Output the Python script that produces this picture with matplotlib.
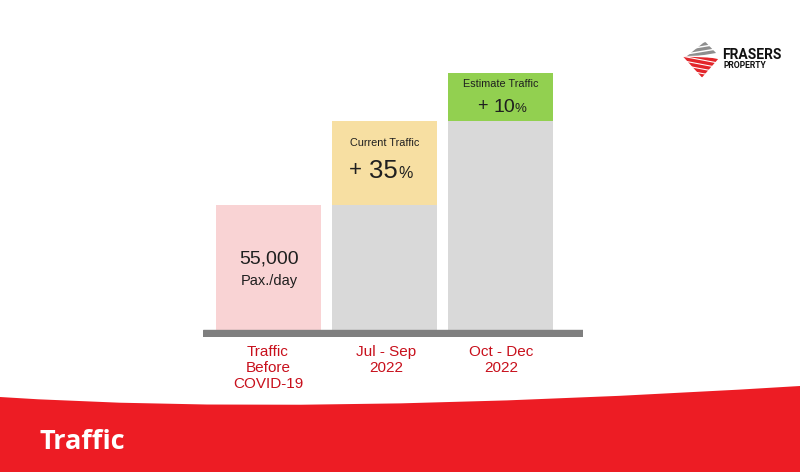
import matplotlib
matplotlib.use("Agg")
import matplotlib.pyplot as plt
from matplotlib.path import Path
from matplotlib.patches import PathPatch, Polygon

# ---- data (heights in thousand pax/day as drawn) ----
categories = ["Traffic\nBefore\nCOVID-19", "Jul - Sep\n2022", "Oct - Dec\n2022"]
base_values = [55, 55, 92]          # lower segment
top_values = [0, 37, 21]            # upper coloured segment
base_colors = ["#F9D3D4", "#D9D9D9", "#D9D9D9"]
top_colors = ["#F9D3D4", "#F7DFA2", "#92D050"]
top_titles = ["", "Current Traffic", "Estimate Traffic"]
top_numbers = ["", "35", "10"]
base_value_text = "55,000"
base_unit_text = "Pax./day"
banner_title = "Traffic"

RED_TXT = "#C8101C"
BANNER = "#ED1C24"
DARK = "#1F1F1F"

fig = plt.figure(figsize=(8, 4.72), dpi=100)

# background / decoration axes in pixel coords
bg = fig.add_axes([0, 0, 1, 1])
bg.set_xlim(0, 800)
bg.set_ylim(472, 0)
bg.axis("off")

# red banner with curved top edge
verts = [(0, 397), (300, 417), (800, 386), (800, 472), (0, 472), (0, 397)]
codes = [Path.MOVETO, Path.CURVE3, Path.CURVE3, Path.LINETO, Path.LINETO, Path.CLOSEPOLY]
bg.add_patch(PathPatch(Path(verts, codes), facecolor=BANNER, edgecolor="none"))
bg.text(40, 449, banner_title, color="white", fontsize=19.5, fontweight="bold",
        family="Open Sans", ha="left", va="baseline")

# logo (approximation): striped triangles
gray_tri = Polygon([(705, 41.5), (687, 56), (718, 55)], closed=True,
                   facecolor="none", edgecolor="none")
red_tri = Polygon([(683, 56.5), (719, 58), (702, 77.5)], closed=True,
                  facecolor="none", edgecolor="none")
bg.add_patch(gray_tri)
bg.add_patch(red_tri)
for y in (44.5, 49.2, 53.9):
    ln, = bg.plot([680, 722], [y + 3.5, y - 3.5], color="#8E8E8E", lw=2.3,
                  solid_capstyle="butt")
    ln.set_clip_path(gray_tri)
for y in (57.5, 62.0, 66.5, 71.0, 75.5):
    ln, = bg.plot([680, 722], [y - 4.0, y + 4.0], color="#E3262B", lw=2.4,
                  solid_capstyle="butt")
    ln.set_clip_path(red_tri)
bg.text(722, 59, "FRASERS", fontsize=10, fontweight="bold", family="Roboto",
        color="#111111", ha="left", va="baseline")
bg.text(723, 68.5, "PROPERTY", fontsize=6.2, fontweight="bold", family="Roboto",
        color="#111111", ha="left", va="baseline")

# chart axes
px_left, px_right, px_top, px_bot = 202.7, 583, 60, 337
ax = fig.add_axes([px_left / 800, (472 - px_bot) / 472,
                   (px_right - px_left) / 800, (px_bot - px_top) / 472])
unit = 125 / 55.0  # px per data unit
ax.set_xlim(-66.2 / 116, 2 + 82.2 / 116)
ax.set_ylim(-(px_bot - 330) / unit, (330 - px_top) / unit)
ax.axis("off")
ax.patch.set_alpha(0)

x = list(range(len(categories)))
width = 105 / 116
ax.bar(x, base_values, width=width, color=base_colors, zorder=2)
ax.bar(x, top_values, width=width, bottom=base_values, color=top_colors, zorder=2)
# baseline band
ax.axhspan(-7.4 / unit, 0.3 / unit, color="#7F7F7F", zorder=3)

# base value text
ax.text(0, (330 - 259) / unit, base_value_text, ha="center", va="center",
        fontsize=14, family="Liberation Sans", color=DARK, zorder=4)
ax.text(0, (330 - 281) / unit, base_unit_text, ha="center", va="center",
        fontsize=10.5, family="Liberation Sans", color=DARK, zorder=4)

# top segment texts
title_y_px = [None, 142.5, 84]
num_base_px = [None, 178.3, 112.3]
num_sizes = [None, 18.5, 14]
plus_sizes = [None, 16, 13]
plus_raise = [None, 1.0, 0.8]
pct_sizes = [None, 11.5, 9.5]
pct_gap = [None, 0.5, -0.5]
num_x_px = [None, 383, 504]
DESC = 0.212  # descent fraction of Liberation Sans
for i in (1, 2):
    ax.text(i, (330 - title_y_px[i]) / unit, top_titles[i], ha="center", va="center",
            fontsize=7.8, family="Liberation Sans", color=DARK, zorder=4)
    xd = (num_x_px[i] - px_left) / 116 - 66.2 / 116
    t = ax.text(xd, (330 - num_base_px[i]) / unit, top_numbers[i], ha="center",
                va="baseline", fontsize=num_sizes[i], family="Liberation Sans",
                color=DARK, zorder=4)
    d = DESC * num_sizes[i]
    ax.annotate("+ ", xy=(0, 0), xycoords=t, xytext=(0, d + plus_raise[i]),
                textcoords="offset points", ha="right", va="baseline",
                fontsize=plus_sizes[i], family="Liberation Sans", color=DARK)
    ax.annotate("%", xy=(1, 0), xycoords=t, xytext=(pct_gap[i], d),
                textcoords="offset points", ha="left", va="baseline",
                fontsize=pct_sizes[i], family="Liberation Sans", color=DARK)

# category labels
label_x_px = [268, 386, 501]
for i, lab in enumerate(categories):
    bg.text(label_x_px[i], 345, lab, ha="center", va="top", fontsize=11,
            family="Liberation Sans", color=RED_TXT, linespacing=1.2)

fig.savefig("out.png", dpi=100)
